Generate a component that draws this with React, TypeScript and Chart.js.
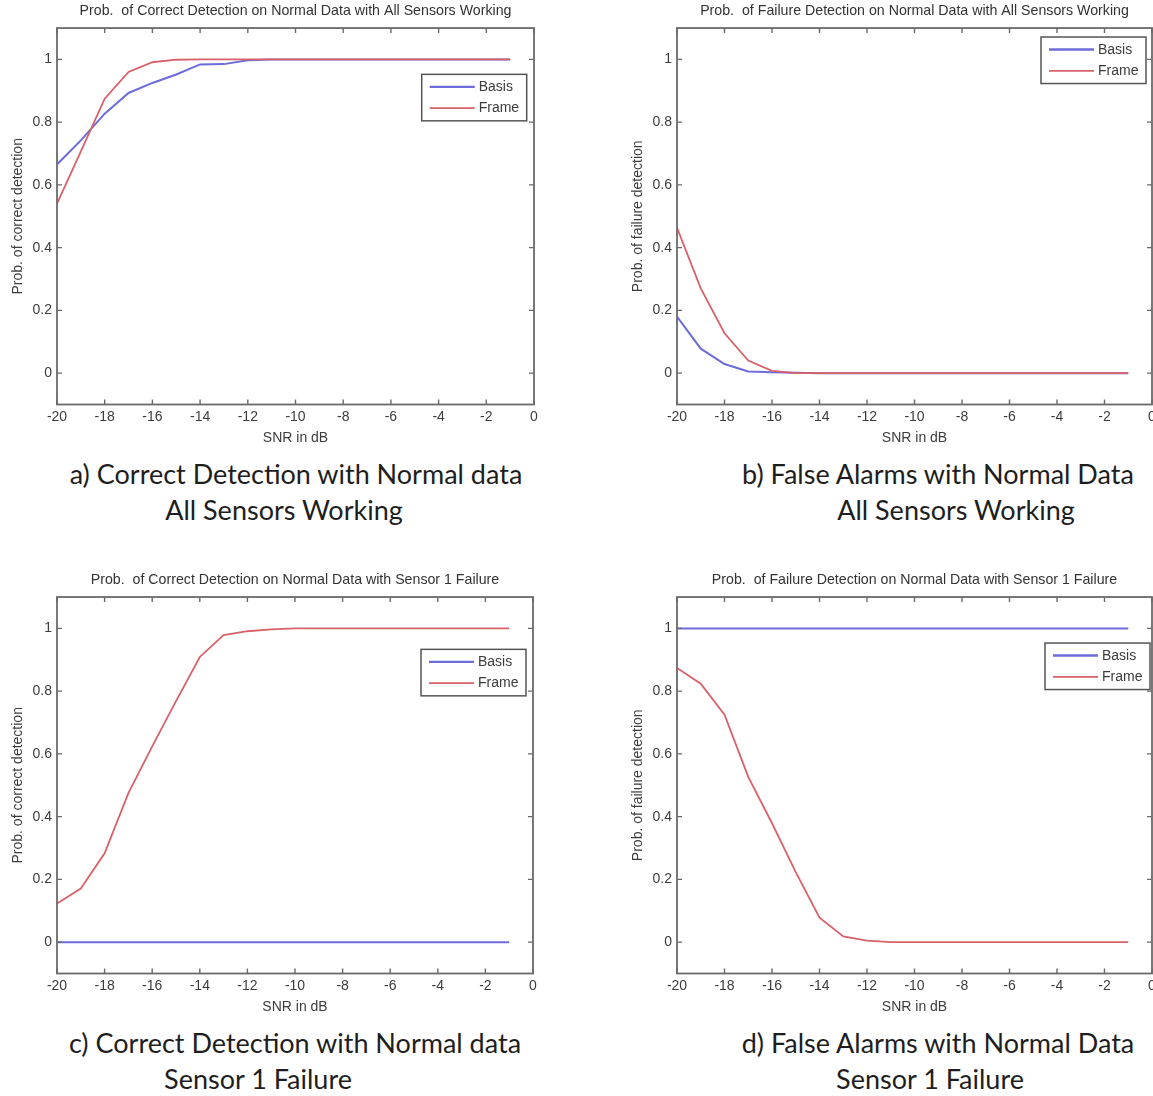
import React, { useEffect, useRef } from "react";
import { Chart, registerables } from "chart.js";

Chart.register(...registerables);

// ---------- data ----------
const snrDb = [-20, -19, -18, -17, -16, -15, -14, -13, -12, -11, -10, -9, -8, -7, -6, -5, -4, -3, -2, -1];

const xTickValues = [-20, -18, -16, -14, -12, -10, -8, -6, -4, -2, 0];
const xTickLabels = ["-20", "-18", "-16", "-14", "-12", "-10", "-8", "-6", "-4", "-2", "0"];
const yTickValues = [0, 0.2, 0.4, 0.6, 0.8, 1];
const yTickLabels = ["0", "0.2", "0.4", "0.6", "0.8", "1"];

const seriesNames = ["Basis", "Frame"];

// a) correct detection, all sensors working
const basisA = [0.665, 0.742, 0.827, 0.893, 0.925, 0.952, 0.984, 0.985, 0.997, 1, 1, 1, 1, 1, 1, 1, 1, 1, 1, 1];
const frameA = [0.54, 0.707, 0.875, 0.96, 0.991, 0.999, 1, 1, 1, 1, 1, 1, 1, 1, 1, 1, 1, 1, 1, 1];
// b) false alarms, all sensors working
const basisB = [0.18, 0.078, 0.029, 0.005, 0.003, 0.001, 0, 0, 0, 0, 0, 0, 0, 0, 0, 0, 0, 0, 0, 0];
const frameB = [0.463, 0.27, 0.127, 0.04, 0.007, 0, 0, 0, 0, 0, 0, 0, 0, 0, 0, 0, 0, 0, 0, 0];
// c) correct detection, sensor 1 failure
const basisC = [0, 0, 0, 0, 0, 0, 0, 0, 0, 0, 0, 0, 0, 0, 0, 0, 0, 0, 0, 0];
const frameC = [0.123, 0.171, 0.283, 0.475, 0.624, 0.768, 0.909, 0.979, 0.991, 0.997, 1, 1, 1, 1, 1, 1, 1, 1, 1, 1];
// d) false alarms, sensor 1 failure
const basisD = [1, 1, 1, 1, 1, 1, 1, 1, 1, 1, 1, 1, 1, 1, 1, 1, 1, 1, 1, 1];
const frameD = [0.874, 0.824, 0.725, 0.527, 0.379, 0.223, 0.078, 0.018, 0.005, 0, 0, 0, 0, 0, 0, 0, 0, 0, 0, 0];

const chartTitles = [
  "Prob.  of Correct Detection on Normal Data with All Sensors Working",
  "Prob.  of Failure Detection on Normal Data with All Sensors Working",
  "Prob.  of Correct Detection on Normal Data with Sensor 1 Failure",
  "Prob.  of Failure Detection on Normal Data with Sensor 1 Failure",
];
const yAxisTitles = [
  "Prob. of correct detection",
  "Prob. of failure detection",
  "Prob. of correct detection",
  "Prob. of failure detection",
];
const xAxisTitle = "SNR in dB";
const captionLines = [
  ["a) Correct Detection with Normal data", "All Sensors Working"],
  ["b) False Alarms with Normal Data", "All Sensors Working"],
  ["c) Correct Detection with Normal data", "Sensor 1 Failure"],
  ["d) False Alarms with Normal Data", "Sensor 1 Failure"],
];

// ---------- styles / layout ----------
const FONT = "'Liberation Sans', Arial, Helvetica, sans-serif";
const BASIS_COLOR = "#6c6cda";
const FRAME_COLOR = "#d8616a";
const AXIS_COLOR = "#6a6a6a";
const TEXT_COLOR = "#3c3c3c";

type PanelLayout = {
  left: number;
  top: number;
  width: number;
  height: number;
  padRight: number;
  legendRight: number;
  legendTop: number;
  cap1: [number, number];
  cap2: [number, number];
};

const layouts: PanelLayout[] = [
  { left: 0, top: 0, width: 560, height: 450, padRight: 26, legendRight: 7.3, legendTop: 46.3, cap1: [296, 474], cap2: [284, 510] },
  { left: 620, top: 0, width: 540, height: 450, padRight: 8, legendRight: 6, legendTop: 9, cap1: [938, 474], cap2: [956, 510] },
  { left: 0, top: 569, width: 560, height: 450, padRight: 27, legendRight: 7, legendTop: 52.3, cap1: [295, 1043], cap2: [258, 1079] },
  { left: 620, top: 569, width: 540, height: 450, padRight: 8, legendRight: 2, legendTop: 46, cap1: [938, 1043], cap2: [930, 1079] },
];

const panelSeries = [
  [basisA, frameA],
  [basisB, frameB],
  [basisC, frameC],
  [basisD, frameD],
];

const boxPlugin = {
  id: "matlabBox",
  afterDatasetsDraw(chart: any) {
    const { ctx, chartArea } = chart;
    const xs = chart.scales.x;
    const ys = chart.scales.y;
    const { left, right, top, bottom } = chartArea;
    const tl = 5;
    ctx.save();
    ctx.strokeStyle = AXIS_COLOR;
    ctx.lineWidth = 1.8;
    ctx.strokeRect(left, top, right - left, bottom - top);
    ctx.lineWidth = 1.4;
    ctx.beginPath();
    xs.ticks.forEach((t: any) => {
      const px = xs.getPixelForValue(t.value);
      ctx.moveTo(px, bottom);
      ctx.lineTo(px, bottom - tl);
      ctx.moveTo(px, top);
      ctx.lineTo(px, top + tl);
    });
    ys.ticks.forEach((t: any) => {
      const py = ys.getPixelForValue(t.value);
      ctx.moveTo(left, py);
      ctx.lineTo(left + tl, py);
      ctx.moveTo(right, py);
      ctx.lineTo(right - tl, py);
    });
    ctx.stroke();
    ctx.restore();
  },
};

const legendPlugin = {
  id: "matlabLegend",
  afterDraw(chart: any, _args: any, opts: any) {
    const { ctx, chartArea } = chart;
    const w = 105;
    const h = 46.5;
    const x0 = chartArea.right - opts.right - w;
    const y0 = chartArea.top + opts.top;
    ctx.save();
    ctx.fillStyle = "#ffffff";
    ctx.fillRect(x0, y0, w, h);
    ctx.strokeStyle = "#555555";
    ctx.lineWidth = 1.5;
    ctx.strokeRect(x0, y0, w, h);
    chart.data.datasets.forEach((ds: any, i: number) => {
      const yy = y0 + 12.5 + i * 21.3;
      ctx.strokeStyle = ds.borderColor;
      ctx.lineWidth = i === 0 ? 2.4 : 1.8;
      ctx.beginPath();
      ctx.moveTo(x0 + 8, yy);
      ctx.lineTo(x0 + 53, yy);
      ctx.stroke();
      ctx.fillStyle = TEXT_COLOR;
      ctx.font = `14px ${FONT}`;
      ctx.textBaseline = "middle";
      ctx.textAlign = "left";
      ctx.fillText(ds.label, x0 + 57, yy + 0.5);
    });
    ctx.restore();
  },
};

function Panel({ idx }: { idx: number }) {
  const ref = useRef<HTMLCanvasElement | null>(null);
  const L = layouts[idx];
  useEffect(() => {
    if (!ref.current) return;
    const [basis, frame] = panelSeries[idx];
    const chart = new Chart(ref.current, {
      type: "line",
      data: {
        datasets: [
          {
            label: seriesNames[0],
            data: snrDb.map((x, i) => ({ x, y: basis[i] })),
            borderColor: BASIS_COLOR,
            borderWidth: 2,
            pointRadius: 0,
            tension: 0,
            order: 1,
          },
          {
            label: seriesNames[1],
            data: snrDb.map((x, i) => ({ x, y: frame[i] })),
            borderColor: FRAME_COLOR,
            borderWidth: 1.8,
            pointRadius: 0,
            tension: 0,
            order: 0,
          },
        ],
      },
      options: {
        animation: false,
        responsive: false,
        devicePixelRatio: 1,
        layout: { padding: { left: 0, right: L.padRight, top: 0, bottom: 0 } },
        scales: {
          x: {
            type: "linear",
            min: -20,
            max: 0,
            afterBuildTicks: (s: any) => {
              s.ticks = xTickValues.map((v) => ({ value: v }));
            },
            afterFit: (s: any) => {
              s.height = 45.5;
            },
            grid: { display: false, drawTicks: false },
            border: { display: false },
            ticks: {
              autoSkip: false,
              maxRotation: 0,
              padding: 4,
              color: TEXT_COLOR,
              font: { family: FONT, size: 14 },
              callback: (v: any) => xTickLabels[xTickValues.indexOf(Number(v))],
            },
            title: {
              display: true,
              text: xAxisTitle,
              color: TEXT_COLOR,
              font: { family: FONT, size: 14 },
              padding: { top: 0, bottom: 3.6 },
            },
          },
          y: {
            type: "linear",
            min: -0.1,
            max: 1.1,
            afterBuildTicks: (s: any) => {
              s.ticks = yTickValues.map((v) => ({ value: v }));
            },
            afterFit: (s: any) => {
              s.width = 57;
            },
            grid: { display: false, drawTicks: false },
            border: { display: false },
            ticks: {
              padding: 5,
              color: TEXT_COLOR,
              font: { family: FONT, size: 14 },
              callback: (v: any) => yTickLabels[yTickValues.indexOf(Number(v))],
            },
            title: {
              display: true,
              text: yAxisTitles[idx],
              color: TEXT_COLOR,
              font: { family: FONT, size: 14 },
              padding: { top: 9.5, bottom: 0 },
            },
          },
        },
        plugins: {
          legend: { display: false },
          tooltip: { enabled: false },
          title: {
            display: true,
            text: chartTitles[idx],
            fullSize: false,
            color: "#333333",
            font: { family: FONT, size: 14.2, weight: "normal" },
            padding: { top: 2.6, bottom: 8.4 },
          },
          matlabLegend: { right: L.legendRight, top: L.legendTop },
        } as any,
      },
      plugins: [boxPlugin, legendPlugin],
    });
    return () => chart.destroy();
  }, [idx]);

  const capStyle = (c: [number, number]): React.CSSProperties => ({
    position: "absolute",
    left: c[0] - 300,
    top: c[1] - 17,
    width: 600,
    height: 34,
    lineHeight: "34px",
    textAlign: "center",
    fontFamily: "Lato, 'Open Sans', sans-serif",
    fontSize: 27,
    color: "#1e1e1e",
    whiteSpace: "nowrap",
  });

  return (
    <>
      <canvas
        ref={ref}
        width={L.width}
        height={L.height}
        style={{ position: "absolute", left: L.left, top: L.top, width: L.width, height: L.height }}
      />
      <div style={capStyle(L.cap1)}>{captionLines[idx][0]}</div>
      <div style={capStyle(L.cap2)}>{captionLines[idx][1]}</div>
    </>
  );
}

export default function App() {
  return (
    <div
      style={{
        position: "absolute",
        left: 0,
        top: 0,
        width: 1153,
        height: 1096,
        overflow: "hidden",
        background: "#ffffff",
      }}
    >
      {[0, 1, 2, 3].map((i) => (
        <Panel key={i} idx={i} />
      ))}
    </div>
  );
}
